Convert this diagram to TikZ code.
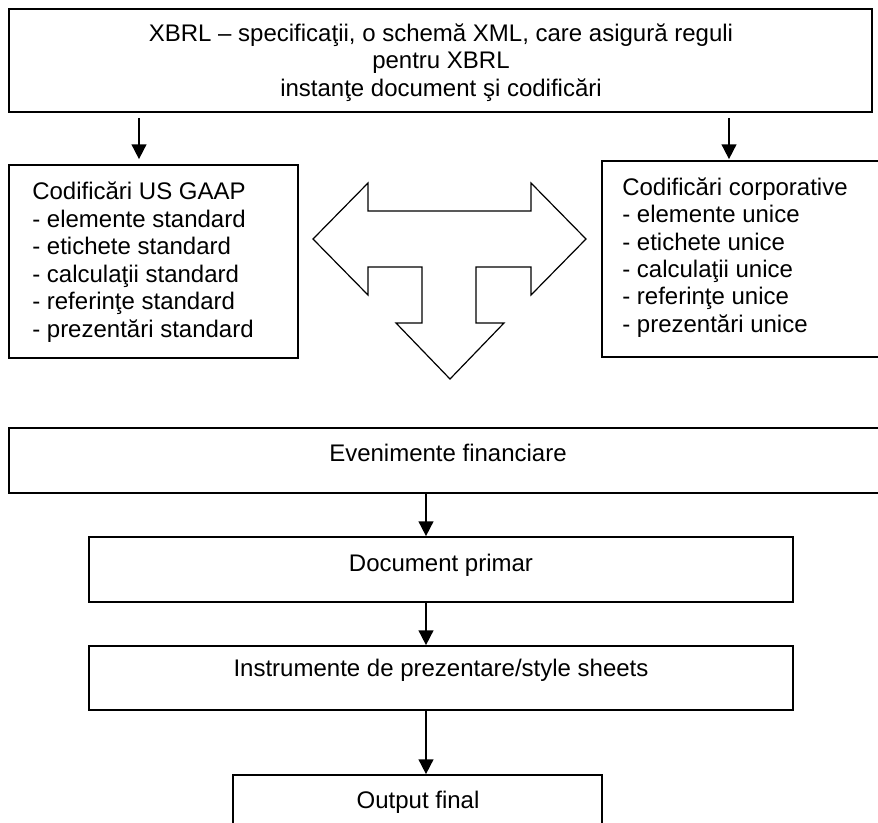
\documentclass[tikz,border=0pt]{standalone}
\usepackage{fontspec}
\setmainfont{Liberation Sans}
\usetikzlibrary{fit,arrows.meta}
\begin{document}
\begin{tikzpicture}[x=0.75pt,y=-0.75pt,
  box/.style={draw, line width=1.3pt, inner sep=0pt},
  txt/.style={inner sep=0pt, font=\fontsize{18}{20.6}\selectfont},
  lst/.style={txt, align=left, anchor=west},
  one/.style={txt, text height=12.9pt, text depth=0pt},
  arr/.style={line width=1.3pt, -{Triangle[width=11pt,length=11pt]}},
  tarrow/.style={draw, line width=0.9pt, line join=miter}]
\useasboundingbox (0,0) rectangle (878,822);
\clip (0,0) rectangle (878,822);
% boxes
\node[box, fit={(9,9)(872,112)}] (top) {};
\node[box, fit={(9,165)(298,358)}] (lb) {};
\node[box, fit={(602,161)(890,357)}] (rb) {};
\node[box, fit={(9,428)(887,493)}] (ev) {};
\node[box, fit={(89,537)(793,602)}] (dp) {};
\node[box, fit={(89,646)(793,710)}] (ins) {};
\node[box, fit={(233,775)(602,840)}] (out) {};
% texts
\node[txt, align=center] (toptxt) at (441,62.3) {XBRL – specificaţii, o schemă XML, care asigură reguli\\pentru XBRL\\instanţe document şi codificări};
\node[lst] (lbtxt) at (32,262) {Codificări US GAAP\\- elemente standard\\- etichete standard\\- calculaţii standard\\- referinţe standard\\- prezentări standard};
\node[lst] (rbtxt) at (622,257.4) {Codificări corporative\\- elemente unice\\- etichete unice\\- calculaţii unice\\- referinţe unice\\- prezentări unice};
\node[one] (evtxt) at (448,453) {Evenimente financiare};
\node[one] (dptxt) at (441,563) {Document primar};
\node[one] (instxt) at (441,668) {Instrumente de prezentare/style sheets};
\node[one] (outtxt) at (418,800) {Output final};
% connectors
\draw[arr, shorten <=3.75pt, shorten >=3.75pt] (top.south -| 139,0) -- (lb.north -| 139,0);
\draw[arr, shorten <=3.75pt, shorten >=0.75pt] (top.south -| 729,0) -- (rb.north -| 729,0);
\draw[arr] (ev.south -| 426,0) -- (dp.north -| 426,0);
\draw[arr] (dp.south -| 426,0) -- (ins.north -| 426,0);
\draw[arr] (ins.south -| 426,0) -- (out.north -| 426,0);
% three-way block arrow
\draw[tarrow] (313,239) -- (368,183) -- (368,211) -- (531,211) -- (531,183) -- (586,239) -- (531,295) -- (531,267) -- (476,267) -- (476,323) -- (504,323) -- (450,379) -- (396,323) -- (422,323) -- (422,267) -- (368,267) -- (368,295) -- cycle;
\end{tikzpicture}
\end{document}
